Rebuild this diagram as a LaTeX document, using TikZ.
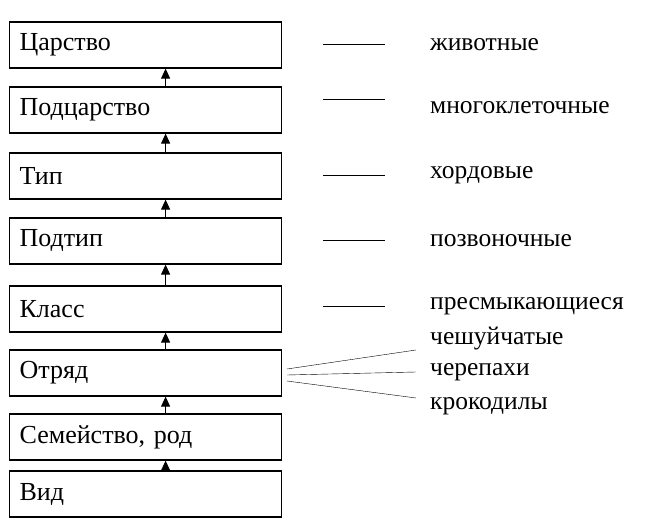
\documentclass[tikz,border=0pt]{standalone}
\usepackage{fontspec}
\setmainfont{Liberation Serif}
\usetikzlibrary{arrows.meta,positioning}
\begin{document}
\begin{tikzpicture}[x=1pt,y=-1pt,
    rank/.style={draw, line width=1.2pt, minimum width=272pt, minimum height=46pt, anchor=west, text width=252pt, align=left, font=\fontsize{26}{29}\selectfont},
    taxon/.style={anchor=west, inner sep=0pt, font=\fontsize{25.5}{28}\selectfont},
    up/.style={-{Triangle[length=10pt,width=9pt]}, line width=1pt}]
    \useasboundingbox (0,0) rectangle (662,532);

    %draw rank boxes
    \node[rank] (tsar) at (9,45)  {Царство};
    \node[rank] (podtsar) at (9,110) {Подцарство};
    \node[rank] (tip) at (9,176) {Тип};
    \node[rank] (podtip) at (9,241) {Подтип};
    \node[rank] (klass) at (9,309) {Класс};
    \node[rank] (otryad) at (9,373) {Отряд};
    \node[rank] (semeistvo) at (9,437) {Семейство, род};
    \node[rank] (vid) at (9,494) {Вид};

    %draw arrows between boxes
    \foreach \lo/\hi in {podtsar/tsar, tip/podtsar, podtip/tip, klass/podtip, otryad/klass, semeistvo/otryad, vid/semeistvo}{
      \draw[up] ([xshift=20pt]\lo.north) -- ([xshift=20pt]\hi.south);
    }

    %draw example names
    \node[taxon] (zhiv) at (430,45)  {животные};
    \node[taxon] (mnogo) at (430,108) {многоклеточные};
    \node[taxon] (khord) at (430,175) {хордовые};
    \node[taxon] (pozv) at (430,241) {позвоночные};
    \node[taxon] (presm) at (430,306) {пресмыкающиеся};
    \node[taxon] (cheshu) at (430,339) {чешуйчатые};
    \node[taxon] (cherep) at (430,372) {черепахи};
    \node[taxon] (krok) at (430,406) {крокодилы};

    %draw dashes
    \foreach \y in {45, 100, 176, 241, 306}{
      \draw[line width=1pt] (323,\y) -- (385,\y);
    }

    %draw lines from Отряд
    \coordinate (o1) at (287,369);
    \coordinate (o2) at (287,375);
    \coordinate (o3) at (287,381);
    \draw (o1) -- ([xshift=-14pt]cheshu.west |- 0,350);
    \draw (o2) -- ([xshift=-14pt]cherep.west);
    \draw (o3) -- ([xshift=-14pt]krok.west |- 0,398);
\end{tikzpicture}
\end{document}
